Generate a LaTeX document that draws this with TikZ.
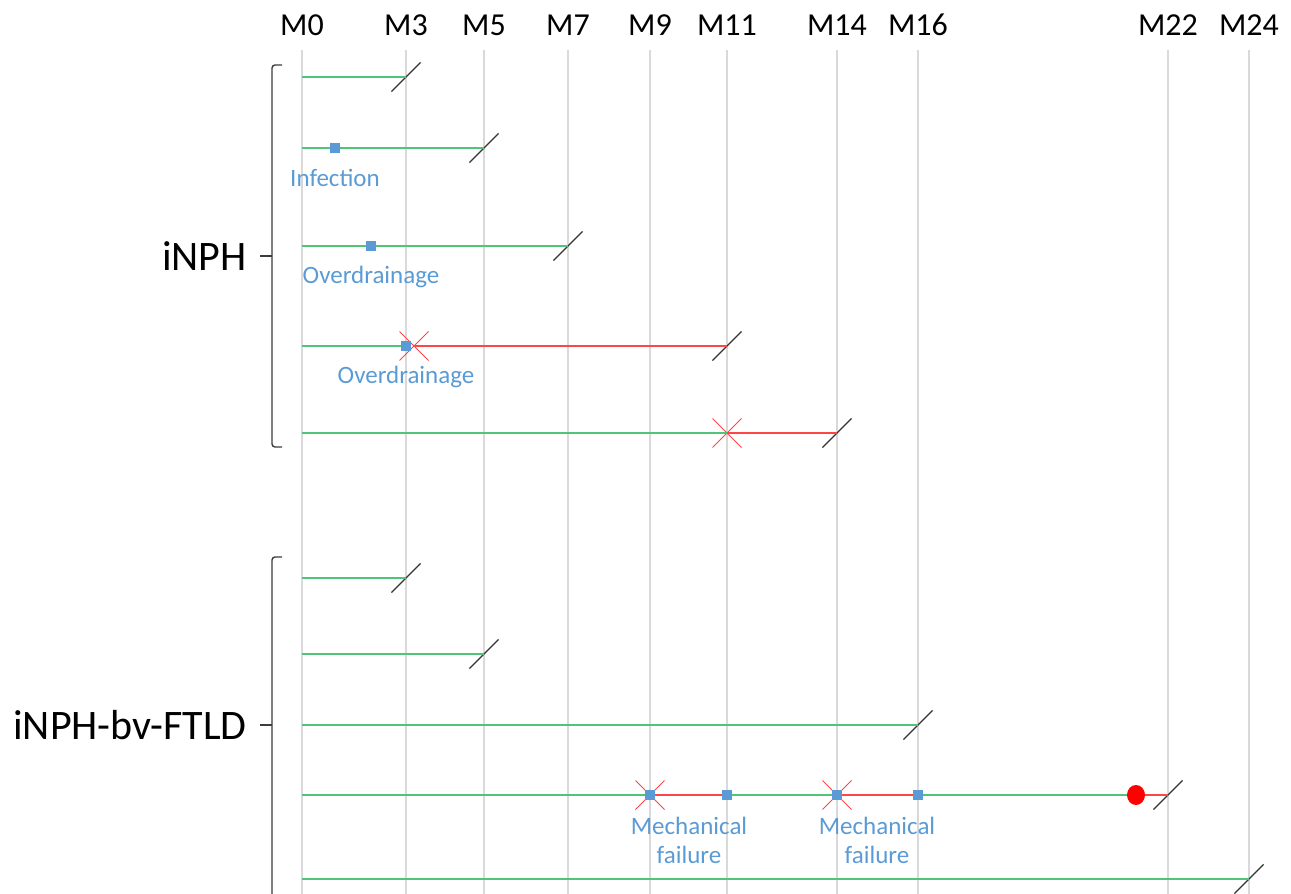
\documentclass[tikz,border=0pt]{standalone}
\usepackage{fontspec}
\setmainfont{Carlito}
\usetikzlibrary{positioning, shapes.misc, shapes.geometric}

\definecolor{gridgray}{RGB}{217,217,217}
\definecolor{fupgreen}{RGB}{80,196,120}
\definecolor{failred}{RGB}{255,70,70}
\definecolor{eventblue}{RGB}{91,155,213}
\definecolor{bracegray}{RGB}{60,60,60}

\tikzset{
  month/.style = {anchor=base, font=\fontsize{32}{38}\selectfont},
  group/.style = {font=\fontsize{42}{50}\selectfont, inner sep=0pt},
  gridline/.style = {draw=gridgray, line width=1.3pt},
  fup/.style = {draw=fupgreen, line width=1.6pt},
  fail/.style = {draw=failred, line width=1.3pt},
  brace/.style = {draw=bracegray, line width=1.4pt, rounded corners=3pt},
  event/.style = {rectangle, fill=eventblue, minimum size=10pt, inner sep=0pt},
  revision/.style = {cross out, draw=failred, line width=1pt, minimum size=28pt, inner sep=0pt},
  death/.style = {ellipse, fill=red, minimum width=18pt, minimum height=20pt, inner sep=0pt},
  lastvisit/.style = {strike out, draw=black!80, line width=1.2pt, minimum size=28pt, inner sep=0pt},
  note/.style = {text=eventblue, font=\fontsize{25}{29}\selectfont, align=center, inner sep=2pt},
}

\begin{document}
\begin{tikzpicture}[x=1pt, y=-1pt]
\useasboundingbox (0,0) rectangle (1291,894);

% months and grid
\foreach \m/\x in {0/302, 3/406, 5/484, 7/568, 9/650, 11/727, 14/837, 16/918, 22/1168, 24/1249} {
  \node[month] (m\m) at (\x,35) {M\m};
  \coordinate (g\m) at (\x,50);
  \draw[gridline] (g\m) -- ++(0,844);
}

% iNPH group
\draw[brace] (282,65) -- (272,65) -- (272,447) -- (282,447);
\coordinate (t1) at (260,256);
\draw[brace] (t1) -- (272,256);
\node[group, left=13pt of t1] (inph) {iNPH};

% row 1
\coordinate (p1) at (302,77);
\node[lastvisit] (p1end) at (406,77) {};
\draw[fup] (p1) -- (p1end.center);

% row 2
\coordinate (p2) at (302,148);
\node[lastvisit] (p2end) at (484,148) {};
\node[event] (inf) at (335,148) {};
\draw[fup] (p2) -- (inf);
\draw[fup] (inf) -- (p2end.center);
\node[note, below=14pt of inf] (infl) {Infection};

% row 3
\coordinate (p3) at (302,246);
\node[lastvisit] (p3end) at (568,246) {};
\node[event] (od1) at (371,246) {};
\draw[fup] (p3) -- (od1);
\draw[fup] (od1) -- (p3end.center);
\node[note, below=13pt of od1] (od1l) {Overdrainage};

% row 4
\coordinate (p4) at (302,346);
\node[lastvisit] (p4end) at (727,346) {};
\node[revision] (rev4) at (414,346) {};
\node[event] (od2) at (406,346) {};
\draw[fup] (p4) -- (od2);
\draw[fail] (rev4.center) -- (p4end.center);
\node[note, below=13pt of od2] (od2l) {Overdrainage};

% row 5
\coordinate (p5) at (302,433);
\node[lastvisit] (p5end) at (837,433) {};
\node[revision] (rev5) at (727,433) {};
\draw[fup] (p5) -- (rev5.center);
\draw[fail] (rev5.center) -- (p5end.center);

% iNPH-bv-FTLD group
\draw[brace] (282,557) -- (272,557) -- (272,898) -- (282,898);
\coordinate (t2) at (260,725);
\draw[brace] (t2) -- (272,725);
\node[group, left=13pt of t2] (ftld) {iNPH-bv-FTLD};

% row 6
\coordinate (p6) at (302,578);
\node[lastvisit] (p6end) at (406,578) {};
\draw[fup] (p6) -- (p6end.center);

% row 7
\coordinate (p7) at (302,654);
\node[lastvisit] (p7end) at (484,654) {};
\draw[fup] (p7) -- (p7end.center);

% row 8
\coordinate (p8) at (302,725);
\node[lastvisit] (p8end) at (918,725) {};
\draw[fup] (p8) -- (p8end.center);

% row 9
\coordinate (p9) at (302,795);
\node[lastvisit] (p9end) at (1168,795) {};
\node[revision] (rev91) at (650,795) {};
\node[revision] (rev92) at (837,795) {};
\node[event] (mf1) at (650,795) {};
\node[event] (mf1b) at (727,795) {};
\node[event] (mf2) at (837,795) {};
\node[event] (mf2b) at (918,795) {};
\node[death] (dead) at (1136,795) {};
\draw[fup] (p9) -- (mf1);
\draw[fail] (mf1) -- (mf1b);
\draw[fup] (mf1b) -- (mf2);
\draw[fail] (mf2) -- (mf2b);
\draw[fup] (mf2b) -- (dead);
\draw[fail] (dead) -- (p9end.center);
\coordinate (mid1) at (689,795);
\coordinate (mid2) at (877,795);
\node[note, below=20pt of mid1] (mf1l) {Mechanical\\failure};
\node[note, below=20pt of mid2] (mf2l) {Mechanical\\failure};

% row 10
\coordinate (p10) at (302,879);
\node[lastvisit] (p10end) at (1249,879) {};
\draw[fup] (p10) -- (p10end.center);

\end{tikzpicture}
\end{document}
